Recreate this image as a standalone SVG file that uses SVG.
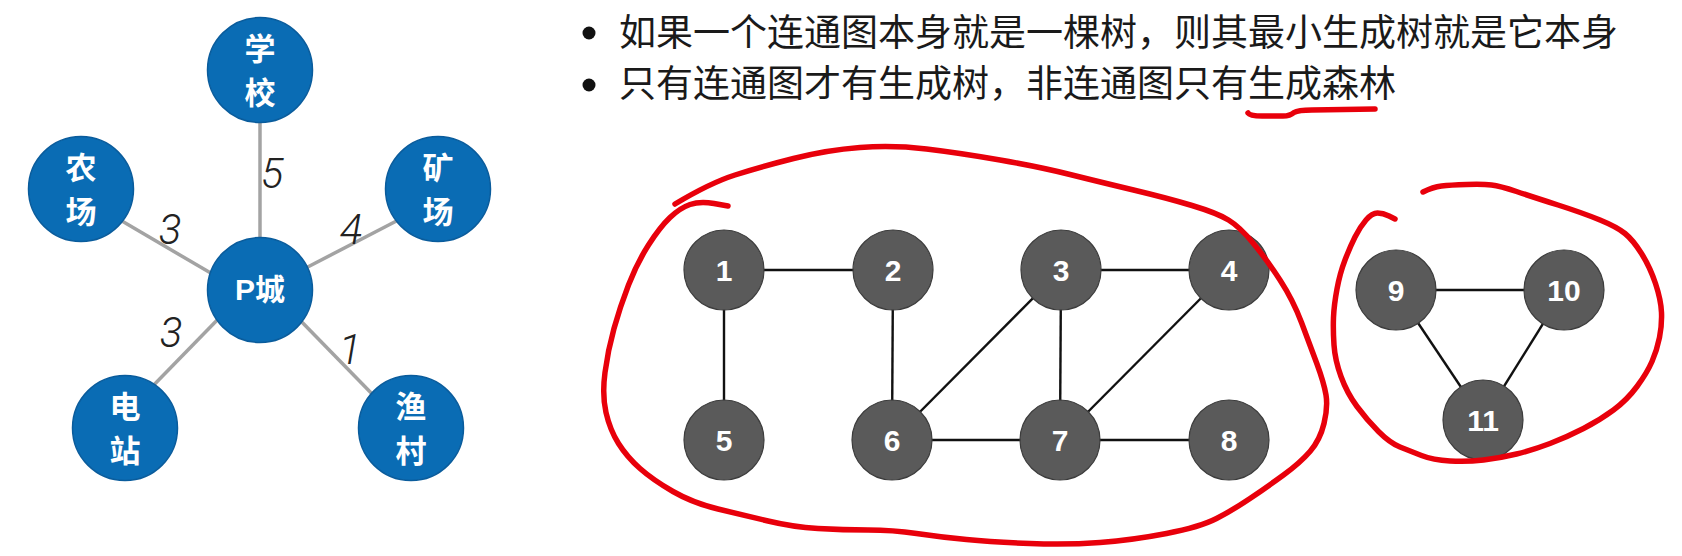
<svg xmlns="http://www.w3.org/2000/svg" width="1682" height="556" viewBox="0 0 1682 556">
<style>
.bg{fill:#ffffff}
.bn circle{fill:#0a6cb4;stroke:#0a5c9c;stroke-width:1.5}
.bn text{fill:#ffffff;font-family:"Liberation Sans","Noto Sans CJK SC",sans-serif;font-weight:700;font-size:31px;text-anchor:middle}
.gn circle{fill:#5a5a5a;stroke:#3c3c3c;stroke-width:1.2}
.gn text{fill:#ffffff;font-family:"Liberation Sans",Arial,sans-serif;font-weight:700;font-size:30px;text-anchor:middle}
.ge{stroke:#a3a3a3;stroke-width:3.5;stroke-linecap:butt;fill:none}
.ke{stroke:#111111;stroke-width:2.4;fill:none}
.w{fill:#222222;font-family:Roboto,"Liberation Sans",sans-serif;font-style:italic;font-weight:300;font-size:42px;text-anchor:middle}
.t{fill:#1a1a1a;font-family:"Noto Sans CJK SC","Liberation Sans",sans-serif;font-size:37px}
.red{fill:none;stroke:#e8000b;stroke-width:5.5;stroke-linecap:round;stroke-linejoin:round}
</style>
<rect class="bg" x="0" y="0" width="1682" height="556"/>

<g id="connectors">
  <line class="ge" x1="260" y1="100" x2="260" y2="250"/>
  <line class="ge" x1="110" y1="214" x2="215" y2="275.6"/>
  <line class="ge" x1="408" y1="215" x2="300" y2="271"/>
  <line class="ge" x1="225" y1="312" x2="145" y2="394"/>
  <line class="ge" x1="295" y1="315" x2="378" y2="400"/>

  <line class="ke" x1="724" y1="270" x2="893" y2="270"/>
  <line class="ke" x1="724" y1="270" x2="724" y2="440"/>
  <line class="ke" x1="893" y1="270" x2="892" y2="440"/>
  <line class="ke" x1="1061" y1="270" x2="1229" y2="270"/>
  <line class="ke" x1="1061" y1="270" x2="892" y2="440"/>
  <line class="ke" x1="1061" y1="270" x2="1060" y2="440"/>
  <line class="ke" x1="1229" y1="270" x2="1060" y2="440"/>
  <line class="ke" x1="892" y1="440" x2="1060" y2="440"/>
  <line class="ke" x1="1060" y1="440" x2="1229" y2="440"/>
  <line class="ke" x1="1396" y1="290" x2="1564" y2="290"/>
  <line class="ke" x1="1396" y1="290" x2="1483" y2="420"/>
  <line class="ke" x1="1564" y1="290" x2="1483" y2="420"/>
</g>

<g id="weights">
  <text class="w" x="272" y="188">5</text>
  <text class="w" x="170" y="244">3</text>
  <text class="w" x="351" y="244">4</text>
  <text class="w" x="171" y="347">3</text>
  <text class="w" x="350" y="364">1</text>
</g>

<g id="n-school" class="bn"><circle cx="260" cy="70" r="52.5"/><text x="260" y="60">学</text><text x="260" y="103.5">校</text></g>
<g id="n-farm" class="bn"><circle cx="81" cy="189" r="52.5"/><text x="81" y="179">农</text><text x="81" y="222.5">场</text></g>
<g id="n-mine" class="bn"><circle cx="438" cy="189" r="52.5"/><text x="438" y="179">矿</text><text x="438" y="222.5">场</text></g>
<g id="n-city" class="bn"><circle cx="260" cy="290" r="52.5"/><text x="260" y="300" style="font-size:30px">P城</text></g>
<g id="n-power" class="bn"><circle cx="125" cy="428" r="52.5"/><text x="125" y="418">电</text><text x="125" y="461.5">站</text></g>
<g id="n-fish" class="bn"><circle cx="411" cy="428" r="52.5"/><text x="411" y="418">渔</text><text x="411" y="461.5">村</text></g>

<g id="n1" class="gn"><circle cx="724" cy="270" r="40"/><text x="724" y="281">1</text></g>
<g id="n2" class="gn"><circle cx="893" cy="270" r="40"/><text x="893" y="281">2</text></g>
<g id="n3" class="gn"><circle cx="1061" cy="270" r="40"/><text x="1061" y="281">3</text></g>
<g id="n4" class="gn"><circle cx="1229" cy="270" r="40"/><text x="1229" y="281">4</text></g>
<g id="n5" class="gn"><circle cx="724" cy="440" r="40"/><text x="724" y="451">5</text></g>
<g id="n6" class="gn"><circle cx="892" cy="440" r="40"/><text x="892" y="451">6</text></g>
<g id="n7" class="gn"><circle cx="1060" cy="440" r="40"/><text x="1060" y="451">7</text></g>
<g id="n8" class="gn"><circle cx="1229" cy="440" r="40"/><text x="1229" y="451">8</text></g>
<g id="n9" class="gn"><circle cx="1396" cy="290" r="40"/><text x="1396" y="301">9</text></g>
<g id="n10" class="gn"><circle cx="1564" cy="290" r="40"/><text x="1564" y="301">10</text></g>
<g id="n11" class="gn"><circle cx="1483" cy="420" r="40"/><text x="1483" y="431">11</text></g>

<g id="bullets">
  <circle cx="589" cy="33" r="6.5" fill="#111"/>
  <text class="t" x="619" y="46">如果一个连通图本身就是一棵树，则其最小生成树就是它本身</text>
  <circle cx="589" cy="85" r="6.5" fill="#111"/>
  <text class="t" x="619" y="97">只有连通图才有生成树，非连通图只有生成森林</text>
</g>

<g id="annotations">
  <path class="red" d="M 1248,113 Q 1250,116 1262,116 L 1283,116 Q 1290,116 1294,112.5 Q 1298,110 1312,110 L 1375,109"/>
  <path class="red" d="M 728,206 L 714,203.5 Q 700,201 690,204.5 Q 680,208 670,217.5 Q 660,227 648.5,245 Q 637,263 628.5,285 Q 620,307 614,328.5 Q 608,350 605,372.5 Q 602,395 606,412.5 Q 610,430 618.5,443.5 Q 627,457 640,468.5 Q 653,480 673,491.5 Q 693,503 718,509 Q 743,515 768,521 Q 793,527 818,528.5 Q 843,530 868,530 Q 893,530 916.5,533.5 Q 940,537 966.5,539.5 Q 993,542 1030,543.5 Q 1067,545 1100,542.5 Q 1133,540 1166.5,533.5 Q 1200,527 1216.5,518.5 Q 1233,510 1250,498.5 Q 1267,487 1283.5,475 Q 1300,463 1310,451.5 Q 1320,440 1324,423.5 Q 1328,407 1326,395 Q 1324,383 1317,364 Q 1310,345 1301.5,322.5 Q 1293,300 1280,280 Q 1267,260 1253.5,243.5 Q 1240,227 1228.5,220 Q 1217,213 1192,205.5 Q 1167,198 1133.5,190 Q 1100,182 1070,174.5 Q 1040,167 1000,160 Q 960,153 926.5,149 Q 893,145 860,147.5 Q 827,150 793.5,158.5 Q 760,167 735,175 Q 710,183 675,204"/>
  <path class="red" d="M 1395,219 L 1389,216 Q 1383,213 1377.5,213 Q 1372,213 1366,220 Q 1360,227 1355,237 Q 1350,247 1345,260 Q 1340,273 1337,289 Q 1334,305 1333.5,317.5 Q 1333,330 1334,345 Q 1335,360 1341,376.5 Q 1347,393 1357,406.5 Q 1367,420 1378.5,431.5 Q 1390,443 1400,447 Q 1410,451 1421.5,455.5 Q 1433,460 1450,461 Q 1467,462 1483.5,460 Q 1500,458 1516.5,454 Q 1533,450 1550,443.5 Q 1567,437 1583.5,428.5 Q 1600,420 1613.5,410 Q 1627,400 1637,386.5 Q 1647,373 1652,361.5 Q 1657,350 1659.5,337.5 Q 1662,325 1661.5,312.5 Q 1661,300 1655.5,283.5 Q 1650,267 1641.5,253.5 Q 1633,240 1625,233.5 Q 1617,227 1600,220 Q 1583,213 1558,205 Q 1533,197 1516.5,191.5 Q 1500,186 1491.5,185 Q 1483,184 1466.5,184.5 Q 1450,185 1441.5,186 Q 1433,187 1423,192"/>
</g>
</svg>
